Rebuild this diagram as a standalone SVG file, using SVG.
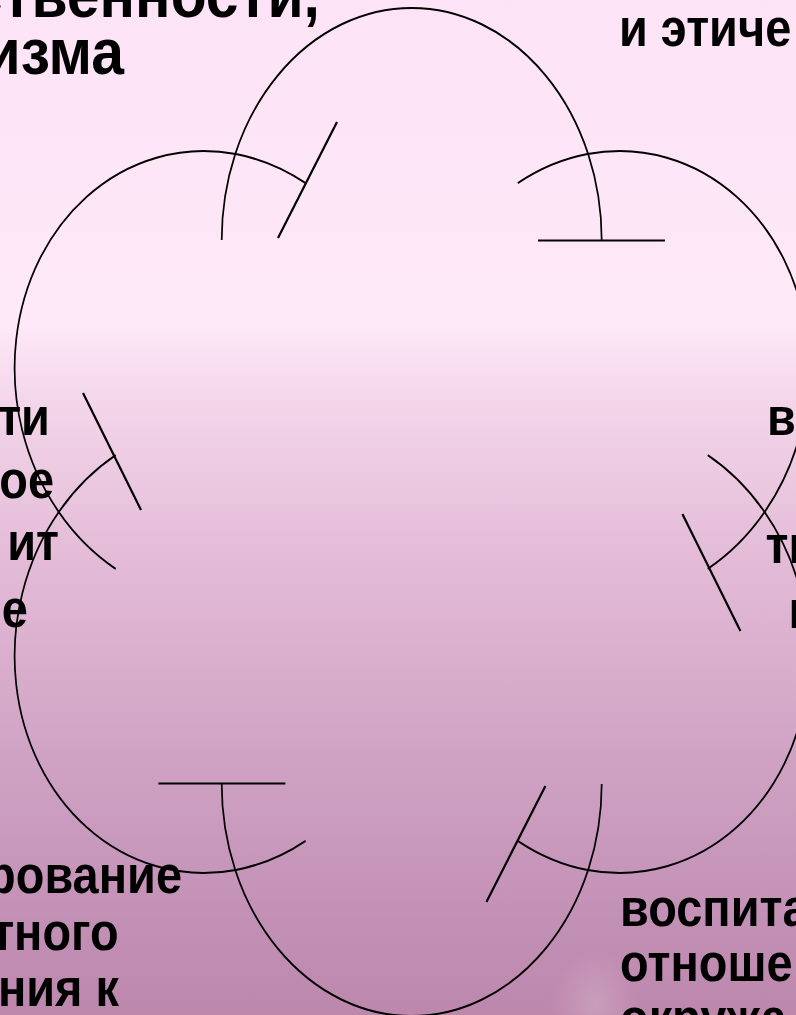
<svg xmlns="http://www.w3.org/2000/svg" width="796" height="1015" viewBox="0 0 796 1015">
  <defs>
    <linearGradient id="bg" x1="0" y1="0" x2="0" y2="1">
      <stop offset="0" stop-color="#FDE3F6"/>
      <stop offset="0.32" stop-color="#FDE9F7"/>
      <stop offset="0.40" stop-color="#F3D5EA"/>
      <stop offset="0.55" stop-color="#E3BBD7"/>
      <stop offset="0.75" stop-color="#CFA2C3"/>
      <stop offset="0.90" stop-color="#C391B6"/>
      <stop offset="1" stop-color="#BD87AC"/>
    </linearGradient>
    <radialGradient id="glow" cx="0.5" cy="0.5" r="0.5">
      <stop offset="0" stop-color="#FFFFFF" stop-opacity="0.18"/>
      <stop offset="1" stop-color="#FFFFFF" stop-opacity="0"/>
    </radialGradient>
    <path id="petal" d="M -222.6 -272 A 222.6 232 0 0 1 222.6 -272"/>
  </defs>
  <style>
    .arc { fill: none; stroke: #000; stroke-width: 2; vector-effect: non-scaling-stroke; }
    .tick { stroke: #000; stroke-width: 2.2; fill: none; }
    .t { font-family: "Liberation Sans", Arial, sans-serif; font-weight: bold; fill: #000; font-size: 51px; }
    .big { font-size: 64px; }
  </style>

  <rect x="0" y="0" width="796" height="1015" fill="url(#bg)"/>
  <ellipse cx="595" cy="1005" rx="45" ry="55" fill="url(#glow)"/>

  <!-- texts (picture is horizontally compressed) -->
  <g transform="scale(0.92 1)">
    <g id="text-top-left">
      <text class="t big" x="347.8" y="17" text-anchor="end">ственности,</text>
      <text class="t big" x="134.8" y="74" text-anchor="end">изма</text>
    </g>
    <g id="text-top-right">
      <text class="t" x="672.8" y="46">и этиче</text>
    </g>
    <g id="text-left">
      <text class="t" x="54.3" y="435" text-anchor="end">ти</text>
      <text class="t" x="58.7" y="498" text-anchor="end">ое</text>
      <text class="t" x="64.1" y="560" text-anchor="end">ит</text>
      <text class="t" x="30.4" y="627" text-anchor="end">е</text>
    </g>
    <g id="text-right">
      <text class="t" x="833.7" y="435">в</text>
      <text class="t" x="832.1" y="563">ти</text>
      <text class="t" x="857.1" y="628">н</text>
    </g>
    <g id="text-bottom-left">
      <text class="t" x="197.8" y="893" text-anchor="end">рование</text>
      <text class="t" x="129" y="950" text-anchor="end">тного</text>
      <text class="t" x="129.3" y="1006" text-anchor="end">ния к</text>
    </g>
    <g id="text-bottom-right">
      <text class="t" x="673.9" y="926.5">воспита</text>
      <text class="t" x="673.9" y="981.5">отноше</text>
      <text class="t" x="673.9" y="1036.5">окружа</text>
    </g>
  </g>

  <!-- petals -->
  <g id="petal-top">
    <use href="#petal" class="arc" transform="translate(411.7 512) scale(0.8535 1)"/>
    <line class="tick" x1="538" y1="240.5" x2="665" y2="240.5"/>
  </g>
  <g id="petal-upper-right">
    <use href="#petal" class="arc" transform="translate(411.7 512) scale(0.8535 1) rotate(60)"/>
    <line class="tick" x1="682.4" y1="514" x2="740.4" y2="631"/>
  </g>
  <g id="petal-lower-right">
    <use href="#petal" class="arc" transform="translate(411.7 512) scale(0.8535 1) rotate(120)"/>
    <line class="tick" x1="545.4" y1="786" x2="486.4" y2="902"/>
  </g>
  <g id="petal-bottom">
    <use href="#petal" class="arc" transform="translate(411.7 512) scale(0.8535 1) rotate(180)"/>
    <line class="tick" x1="158.4" y1="783.5" x2="285.4" y2="783.5"/>
  </g>
  <g id="petal-lower-left">
    <use href="#petal" class="arc" transform="translate(411.7 512) scale(0.8535 1) rotate(240)"/>
    <line class="tick" x1="83" y1="393" x2="141" y2="510"/>
  </g>
  <g id="petal-upper-left">
    <use href="#petal" class="arc" transform="translate(411.7 512) scale(0.8535 1) rotate(300)"/>
    <line class="tick" x1="278" y1="238" x2="337" y2="122"/>
  </g>
</svg>
